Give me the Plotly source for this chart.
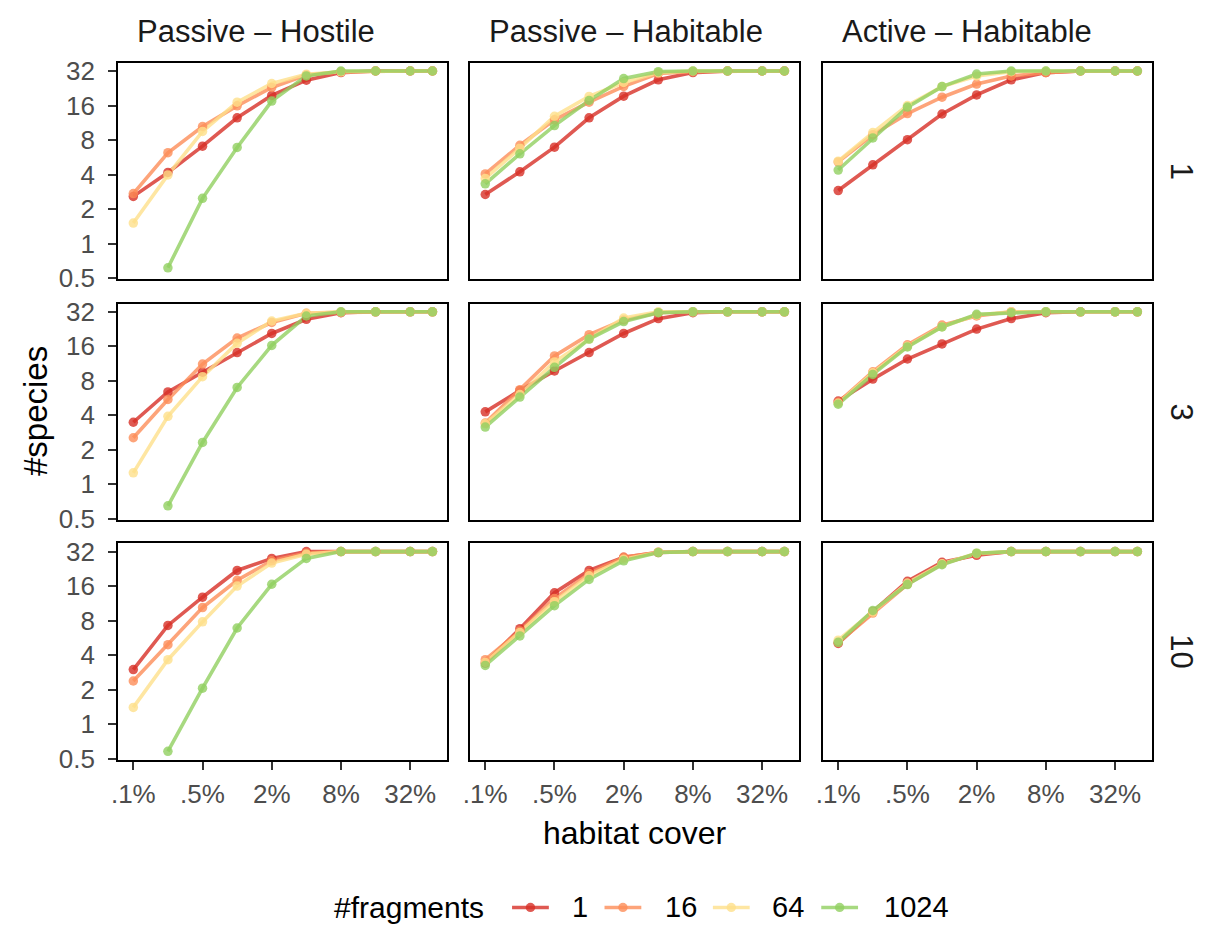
import plotly.graph_objects as go
import math

# ---------------- data ----------------
cover = [0.125, 0.25, 0.5, 1, 2, 4, 8, 16, 32, 50]  # habitat cover (%)
x_tickvals = [0.125, 0.5, 2, 8, 32]
x_ticktext = [".1%", ".5%", "2%", "8%", "32%"]
y_tickvals = [0.5, 1, 2, 4, 8, 16, 32]
y_ticktext = ["0.5", "1", "2", "4", "8", "16", "32"]

scenarios = ["Passive – Hostile", "Passive – Habitable", "Active – Habitable"]
rows = ["1", "3", "10"]
fragments = ["1", "16", "64", "1024"]

# species[row][scenario][fragments]
species = {
    "1": {
        "Passive – Hostile": {
            "1":    [2.58, 4.17, 7.07, 12.5, 19.6, 26.6, 31.0, 32, 32, 32],
            "16":   [2.73, 6.2, 10.5, 15.9, 23.0, 29.5, 31.5, 32, 32, 32],
            "64":   [1.51, 3.97, 9.5, 17.1, 24.9, 30.0, 31.5, 32, 32, 32],
            "1024": [None, 0.615, 2.48, 6.89, 17.5, 29.0, 32, 32, 32, 32],
        },
        "Passive – Habitable": {
            "1":    [2.68, 4.23, 6.93, 12.5, 19.3, 26.8, 31.0, 32, 32, 32],
            "16":   [4.05, 7.2, 12.0, 17.1, 23.5, 30.4, 31.6, 32, 32, 32],
            "64":   [3.7, 6.8, 12.9, 19.2, 25.4, 31.0, 32, 32, 32, 32],
            "1024": [3.32, 6.07, 10.7, 17.7, 27.5, 31.6, 32, 32, 32, 32],
        },
        "Active – Habitable": {
            "1":    [2.9, 4.86, 8.06, 13.5, 19.8, 26.8, 31.0, 32, 32, 32],
            "16":   [5.16, 8.9, 13.6, 18.9, 24.6, 29.0, 31.0, 32, 32, 32],
            "64":   [5.23, 9.3, 16.0, 23.4, 29.0, 31.6, 32, 32, 32, 32],
            "1024": [4.38, 8.34, 15.5, 23.4, 30.1, 32, 32, 32, 32, 32],
        },
    },
    "3": {
        "Passive – Hostile": {
            "1":    [3.48, 6.4, 9.5, 14.1, 20.7, 27.5, 31.4, 32, 32, 32],
            "16":   [2.55, 5.5, 11.2, 18.9, 25.8, 31.0, 31.6, 32, 32, 32],
            "64":   [1.26, 3.92, 8.7, 17.0, 26.6, 31.0, 32, 32, 32, 32],
            "1024": [None, 0.65, 2.32, 7.0, 16.3, 29.4, 32, 32, 32, 32],
        },
        "Passive – Habitable": {
            "1":    [4.29, 6.6, 9.75, 14.1, 20.7, 27.9, 31.4, 32, 32, 32],
            "16":   [3.43, 6.7, 13.2, 20.2, 27.2, 31.4, 32, 32, 32, 32],
            "64":   [3.37, 6.07, 11.7, 18.5, 28.2, 32, 32, 32, 32, 32],
            "1024": [3.16, 5.77, 10.5, 18.5, 26.3, 31.4, 32, 32, 32, 32],
        },
        "Active – Habitable": {
            "1":    [5.33, 8.28, 12.4, 16.8, 22.6, 27.9, 31.4, 32, 32, 32],
            "16":   [5.2, 9.6, 16.5, 24.5, 29.4, 32, 32, 32, 32, 32],
            "64":   [5.1, 9.4, 16.0, 23.7, 30.0, 32, 32, 32, 32, 32],
            "1024": [5.0, 9.1, 15.8, 23.6, 30.4, 31.4, 32, 32, 32, 32],
        },
    },
    "10": {
        "Passive – Hostile": {
            "1":    [2.99, 7.26, 12.8, 21.9, 27.9, 32, 32, 32, 32, 32],
            "16":   [2.38, 4.93, 10.4, 18.0, 26.6, 31.0, 32, 32, 32, 32],
            "64":   [1.4, 3.65, 7.8, 16.0, 25.4, 30.4, 32, 32, 32, 32],
            "1024": [None, 0.58, 2.06, 6.9, 16.6, 27.9, 32, 32, 32, 32],
        },
        "Passive – Habitable": {
            "1":    [3.41, 6.8, 14.0, 21.9, 28.5, 31.4, 32, 32, 32, 32],
            "16":   [3.65, 6.5, 12.5, 20.6, 28.5, 31.6, 32, 32, 32, 32],
            "64":   [3.45, 6.3, 11.7, 19.7, 27.5, 31.6, 32, 32, 32, 32],
            "1024": [3.25, 5.88, 10.8, 18.3, 26.6, 31.4, 32, 32, 32, 32],
        },
        "Active – Habitable": {
            "1":    [5.06, 9.6, 17.6, 25.8, 29.7, 32, 32, 32, 32, 32],
            "16":   [5.15, 9.3, 16.6, 25.0, 30.5, 32, 32, 32, 32, 32],
            "64":   [5.4, 9.5, 17.0, 25.0, 31.0, 32, 32, 32, 32, 32],
            "1024": [5.17, 9.8, 16.5, 24.6, 31.0, 32, 32, 32, 32, 32],
        },
    },
}

# ---------------- style ----------------
W, H = 1208, 942
colors = {"1": (215, 48, 39), "16": (252, 141, 89), "64": (254, 224, 139), "1024": (145, 207, 96)}
ALPHA = 0.8
FONT = "Liberation Sans, Arial, Helvetica, sans-serif"
LW = 3.6
MS = 9.5

col_px = [(112, 443), (466, 797), (821, 1152)]
row_px = [(58, 279), (304, 525), (549, 770)]

def rgba(c, a=ALPHA):
    return "rgba(%d,%d,%d,%.2f)" % (c[0], c[1], c[2], a)

lo, hi = math.log10(cover[0]), math.log10(cover[-1])
xr = [lo - 0.05 * (hi - lo), hi + 0.05 * (hi - lo)]
yr = [-0.3095, 1.577]

fig = go.Figure()
layout = {}
for ri, rlab in enumerate(rows):
    for ci, scen in enumerate(scenarios):
        k = ri * 3 + ci + 1
        xa = "x" if k == 1 else "x%d" % k
        ya = "y" if k == 1 else "y%d" % k
        for fr in fragments:
            fig.add_trace(go.Scatter(
                x=cover, y=species[rlab][scen][fr], mode="lines",
                line=dict(color=rgba(colors[fr]), width=LW),
                xaxis=xa, yaxis=ya, showlegend=False, hoverinfo="skip",
                connectgaps=False))
        for fr in fragments:
            fig.add_trace(go.Scatter(
                x=cover, y=species[rlab][scen][fr], mode="markers",
                marker=dict(color=rgba(colors[fr]), size=MS, line=dict(width=0)),
                xaxis=xa, yaxis=ya, showlegend=False))
        x0, x1 = col_px[ci]
        y0, y1 = row_px[ri]
        xname = "xaxis" if k == 1 else "xaxis%d" % k
        yname = "yaxis" if k == 1 else "yaxis%d" % k
        layout[xname] = dict(
            type="log", range=xr, domain=[x0 / W, x1 / W], anchor=ya,
            tickvals=x_tickvals, ticktext=x_ticktext, showticklabels=(ri == 2),
            ticks="outside" if ri == 2 else "", ticklen=8, tickwidth=2.4, tickcolor="#333333",
            ticklabelstandoff=2,
            showgrid=False, zeroline=False, showline=True, linecolor="black", linewidth=2.4,
            mirror=True, tickfont=dict(family=FONT, size=26, color="#4D4D4D"))
        layout[yname] = dict(
            type="log", range=yr, domain=[1 - y1 / H, 1 - y0 / H], anchor=xa,
            tickvals=y_tickvals, ticktext=y_ticktext, showticklabels=(ci == 0),
            ticks="outside" if ci == 0 else "", ticklen=8, tickwidth=2.4, tickcolor="#333333",
            ticklabelstandoff=8,
            showgrid=False, zeroline=False, showline=True, linecolor="black", linewidth=2.4,
            mirror=True, tickfont=dict(family=FONT, size=26, color="#4D4D4D"))

annotations = []
shapes = []
for ci, scen in enumerate(scenarios):
    x0, x1 = col_px[ci]
    annotations.append(dict(text=scen, x=(x0 + 17) / W, y=1 - 26 / H, xref="paper", yref="paper",
                            showarrow=False, font=dict(family=FONT, size=31, color="#1A1A1A"),
                            xanchor="left", yanchor="middle"))
for ri, rlab in enumerate(rows):
    y0, y1 = row_px[ri]
    annotations.append(dict(text=rlab, x=1181 / W, y=1 - (y0 + y1) / 2 / H, xref="paper", yref="paper",
                            showarrow=False, textangle=90, font=dict(family=FONT, size=31, color="#1A1A1A"),
                            xanchor="center", yanchor="middle"))
annotations.append(dict(text="habitat cover", x=632 / W, y=1 - 845 / H, xref="paper", yref="paper",
                        showarrow=False, font=dict(family=FONT, size=32, color="black"),
                        xanchor="center", yanchor="middle"))
annotations.append(dict(text="#species", x=28 / W, y=1 - 414 / H, xref="paper", yref="paper",
                        showarrow=False, textangle=-90, font=dict(family=FONT, size=33, color="black"),
                        xanchor="center", yanchor="middle"))

# legend (drawn manually to match spacing)
LEG_Y = 921
annotations.append(dict(text="#fragments", x=327 / W, y=1 - LEG_Y / H, xref="paper", yref="paper",
                        showarrow=False, font=dict(family=FONT, size=30, color="black"),
                        xanchor="left", yanchor="middle"))
leg_lines = [(508, 545), (601, 638), (710, 747), (819, 856)]
leg_text = [566, 660, 767, 880]
for fr, (lx0, lx1), tx in zip(fragments, leg_lines, leg_text):
    yy = 1 - LEG_Y / H
    shapes.append(dict(type="line", xref="paper", yref="paper", x0=lx0 / W, x1=lx1 / W, y0=yy, y1=yy,
                       line=dict(color=rgba(colors[fr]), width=LW)))
    cx = (lx0 + lx1) / 2
    r = MS / 2
    shapes.append(dict(type="circle", xref="paper", yref="paper",
                       x0=(cx - r) / W, x1=(cx + r) / W, y0=1 - (LEG_Y + r) / H, y1=1 - (LEG_Y - r) / H,
                       fillcolor=rgba(colors[fr]), line=dict(width=0)))
    annotations.append(dict(text=fr, x=tx / W, y=yy, xref="paper", yref="paper",
                            showarrow=False, font=dict(family=FONT, size=29, color="black"),
                            xanchor="left", yanchor="middle"))

fig.update_layout(
    width=W, height=H, margin=dict(l=0, r=0, t=0, b=0),
    paper_bgcolor="white", plot_bgcolor="white",
    annotations=annotations, shapes=shapes, showlegend=False,
    **layout)

fig.write_html("out.html")
